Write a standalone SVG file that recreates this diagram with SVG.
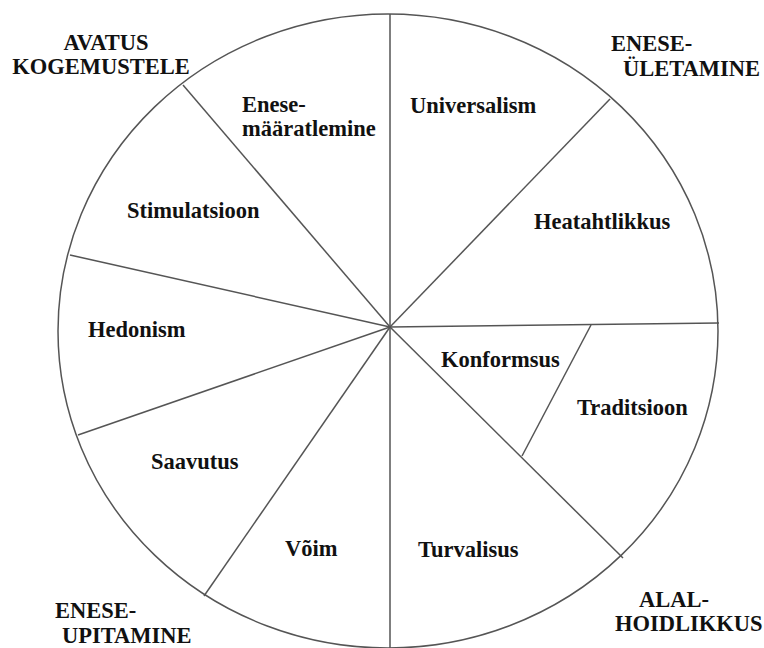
<svg xmlns="http://www.w3.org/2000/svg" width="764" height="648" viewBox="0 0 764 648">
<style>
.t{font-family:"Liberation Serif","Times New Roman",serif;font-weight:bold;font-size:22.5px;fill:#111}
.l{stroke:#555;stroke-width:1.5;fill:none}
</style>
<rect width="764" height="648" fill="#fff"/>
<g id="connectors">
<ellipse class="l" cx="388" cy="331" rx="330" ry="317"/>
<line class="l" x1="390" y1="327" x2="390" y2="14"/>
<line class="l" x1="390" y1="327" x2="610" y2="99"/>
<line class="l" x1="390" y1="327" x2="719" y2="323"/>
<line class="l" x1="591" y1="325" x2="522" y2="456"/>
<line class="l" x1="390" y1="327" x2="623" y2="558"/>
<line class="l" x1="390" y1="327" x2="390" y2="648"/>
<line class="l" x1="390" y1="327" x2="204" y2="596"/>
<line class="l" x1="390" y1="327" x2="78" y2="435"/>
<line class="l" x1="390" y1="327" x2="70" y2="255"/>
<line class="l" x1="390" y1="327" x2="183" y2="85"/>
</g>
<g id="avatus"><text class="t" x="106" y="50" text-anchor="middle">AVATUS</text><text class="t" x="101" y="74" text-anchor="middle">KOGEMUSTELE</text></g>
<g id="eneseuletamine"><text class="t" x="611" y="51">ENESE-</text><text class="t" x="623" y="76">ÜLETAMINE</text></g>
<g id="eneseupitamine"><text class="t" x="55" y="618">ENESE-</text><text class="t" x="62" y="643">UPITAMINE</text></g>
<g id="alalhoidlikkus"><text class="t" x="639" y="607">ALAL-</text><text class="t" x="615" y="631">HOIDLIKKUS</text></g>
<g id="enesemaaratlemine"><text class="t" x="242" y="112">Enese-</text><text class="t" x="242" y="136">määratlemine</text></g>
<g id="universalism"><text class="t" x="410" y="113">Universalism</text></g>
<g id="heatahtlikkus"><text class="t" x="534" y="229">Heatahtlikkus</text></g>
<g id="stimulatsioon"><text class="t" x="127" y="218">Stimulatsioon</text></g>
<g id="hedonism"><text class="t" x="88" y="337">Hedonism</text></g>
<g id="konformsus"><text class="t" x="441" y="367">Konformsus</text></g>
<g id="traditsioon"><text class="t" x="577" y="415">Traditsioon</text></g>
<g id="saavutus"><text class="t" x="151" y="469">Saavutus</text></g>
<g id="voim"><text class="t" x="285" y="556">Võim</text></g>
<g id="turvalisus"><text class="t" x="418" y="557">Turvalisus</text></g>
</svg>
